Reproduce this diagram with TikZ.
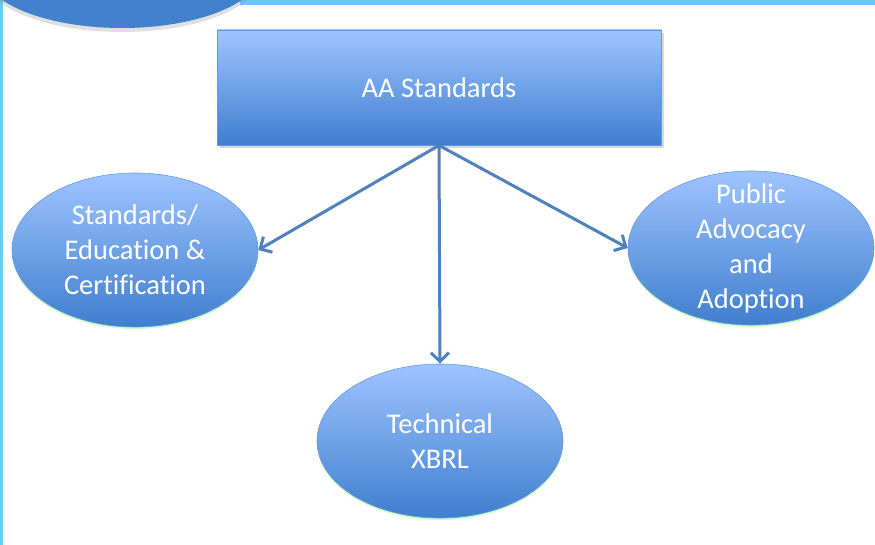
\documentclass[tikz,border=0pt]{standalone}
\usepackage{fontspec}
\setmainfont{Carlito}[Ligatures=NoCommon]
\usetikzlibrary{shapes.geometric,arrows.meta,shadows}
\definecolor{bleuclair}{RGB}{158,196,255}
\definecolor{bleufonce}{RGB}{64,126,206}
\definecolor{bleufleche}{RGB}{79,129,189}
\definecolor{bleucoin}{RGB}{66,129,204}
\definecolor{cyanbord}{RGB}{108,203,237}
\tikzset{
  boite/.style={rectangle, draw=bleufonce!80, line width=0.8pt, top color=bleuclair, bottom color=bleufonce, minimum width=444pt, minimum height=115pt, drop shadow={shadow xshift=3pt, shadow yshift=-3pt, opacity=.3}},
  bulle/.style={ellipse, draw=bleufonce!80, line width=0.6pt, top color=bleuclair, bottom color=bleufonce, minimum width=246pt, minimum height=154pt, inner sep=0pt, drop shadow={shadow xshift=0pt, shadow yshift=-2pt, fill=green!35!white, opacity=.6}},
  texte/.style={text=white, align=center, font=\fontsize{28.5}{35}\selectfont},
  fleche/.style={draw=bleufleche, line width=3pt, -{Straight Barb[length=9pt,width=18pt]}}
}
\begin{document}
\begin{tikzpicture}[x=1pt,y=-1pt]
    \useasboundingbox (0,0) rectangle (875,545);
    \fill[white] (0,0) rectangle (875,545); %fond
    \fill[cyanbord] (240,0) rectangle (875,5); %bord haut
    \fill[cyanbord] (0,0) rectangle (3,545); %bord gauche
    \fill[bleucoin, drop shadow={shadow xshift=0pt, shadow yshift=-4pt, opacity=.25}] (122,-30) ellipse (140pt and 58pt); %coin
    \node[boite, label={[texte]center:AA Standards}] (aa) at (439,87.5) {}; %rectangle
    \node[bulle, label={[texte]center:Standards/\\Education \&\\Certification}] (sec) at (135,250) {}; %gauche
    \node[bulle, label={[texte]center:Public\\Advocacy\\and\\Adoption}] (pub) at (751,248) {}; %droite
    \node[bulle, label={[texte]center:Technical\\XBRL}] (tec) at (440,441) {}; %bas
    \draw[fleche] (aa.south) -- (sec.east);
    \draw[fleche] (aa.south) -- (tec.north);
    \draw[fleche] (aa.south) -- (pub.west);
\end{tikzpicture}
\end{document}
